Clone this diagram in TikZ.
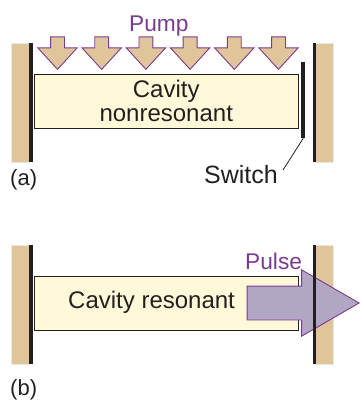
\documentclass[tikz,border=0pt]{standalone}
\usepackage{fontspec}
\setmainfont{Liberation Sans}
\usetikzlibrary{shapes.arrows,positioning}
\definecolor{Mirror}{HTML}{E0C49A}
\definecolor{MirrorEdge}{HTML}{E8E8E6}
\definecolor{Cavity}{HTML}{FFF9D9}
\definecolor{Violet}{HTML}{7A3B8F}
\definecolor{PulseFill}{HTML}{B1A6C3}
\definecolor{Ink}{HTML}{231F20}
\tikzset{
    % All sizes are in pixels of the picture
    mirrorbox/.style={
        rectangle,
        draw=MirrorEdge,
        fill=Mirror,
        line width=1pt,
        inner sep=0pt,
        minimum width=18pt,
        minimum height=119pt
    },
    mirrorface/.style={
        rectangle,
        fill=Ink,
        inner sep=0pt,
        minimum width=3.8pt,
        minimum height=119.5pt
    },
    switchbar/.style={
        rectangle,
        fill=Ink,
        inner sep=0pt,
        minimum width=4pt,
        minimum height=76pt
    },
    cavitybox/.style={
        rectangle,
        draw=Ink,
        fill=Cavity,
        line width=1pt,
        inner sep=0pt,
        minimum width=263.5pt,
        minimum height=54pt,
        align=center,
        text=Ink,
        font=\fontsize{24}{24.5}\selectfont
    },
    pumparrow/.style={
        single arrow,
        draw=Violet,
        fill=Mirror,
        line width=0.9pt,
        inner sep=6.5pt,
        anchor=tip,
        shape border rotate=270,
        minimum height=32.5pt,
        minimum width=38.5pt,
        single arrow head extend=12.75pt,
        single arrow tip angle=85
    },
    pulsearrow/.style={
        single arrow,
        draw=Violet,
        fill=PulseFill,
        line width=0.9pt,
        inner sep=16.5pt,
        anchor=tip,
        minimum height=112pt,
        minimum width=65.5pt,
        single arrow head extend=16.25pt,
        single arrow tip angle=60
    },
    plainlabel/.style={
        inner sep=0pt,
        anchor=base west,
        text=Ink,
        font=\fontsize{24}{24}\selectfont
    },
    partlabel/.style={
        plainlabel,
        font=\fontsize{22}{24}\selectfont
    },
    colorlabel/.style={
        plainlabel,
        text=Violet,
        font=\fontsize{22.7}{24}\selectfont
    }
}
\begin{document}
\begin{tikzpicture}[x=1pt,y=-1pt]
    \useasboundingbox (0,0) rectangle (360,400);

    % Upper panel
    \node[mirrorbox] (mirrorla) at (20,102.5) {};
    \node[mirrorface] (facela) at (30.7,102.5) {};
    \node[mirrorbox] (mirrorra) at (324.5,102.5) {};
    \node[mirrorface] (facera) at (314.4,102.5) {};
    \node[cavitybox] (cavitya) at (166.25,101) {Cavity\\nonresonant};
    \foreach \i/\x in {1/57.5,2/101.7,3/145.9,4/190.1,5/234.3,6/278.5}
        \node[pumparrow] (pump\i) at (\x,70) {};
    \node[colorlabel] (pump) at (129,31) {Pump};
    \node[switchbar] (switch) at (303.3,100) {};
    \node[plainlabel,font=\fontsize{25}{25}\selectfont] (switchlabel) at (204,183) {Switch};
    \coordinate (switchend) at (283,170);
    \node[partlabel] (a) at (10,185) {(a)};

    % Lower panel
    \node[mirrorbox] (mirrorlb) at (20,304.5) {};
    \node[mirrorface] (facelb) at (30.7,304.5) {};
    \node[mirrorbox] (mirrorrb) at (324.5,304.5) {};
    \node[cavitybox] (cavityb) at (166.25,303.25) {};
    \node[plainlabel] (resonant) at (68,308) {Cavity resonant};
    \node[pulsearrow] (pulse) at (360,303) {};
    \node[mirrorface] (facerb) at (314.4,304.5) {};
    \node[colorlabel] (pulselabel) at (245,269) {Pulse};
    \node[partlabel] (b) at (10,395) {(b)};

    % Leader
    \draw[Ink,line width=0.8pt] (switch.south) -- (switchend);
\end{tikzpicture}
\end{document}
